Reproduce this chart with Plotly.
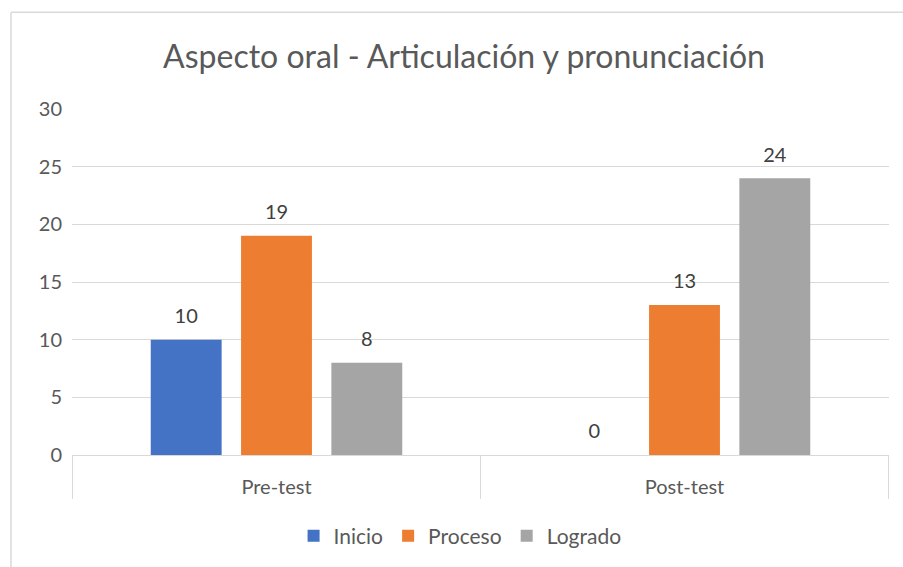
import plotly.graph_objects as go

categories = ["Pre-test", "Post-test"]
series_names = ["Inicio", "Proceso", "Logrado"]
inicio = [10, 0]
proceso = [19, 13]
logrado = [8, 24]
y_ticks = [0, 5, 10, 15, 20, 25, 30]

colors = ["#4472C4", "#ED7D31", "#A5A5A5"]
FONT = "Lato"
TXT = "#595959"

fig = go.Figure()
for name, vals, c in zip(series_names, [inicio, proceso, logrado], colors):
    fig.add_trace(go.Bar(
        name=name, x=categories, y=vals, marker=dict(color=c, line=dict(width=0)),
        offsetgroup=name, hoverinfo="x+y+name",
    ))
for name, vals in zip(series_names, [inicio, proceso, logrado]):
    fig.add_trace(go.Scatter(
        x=categories, y=vals, mode="markers+text", offsetgroup=name,
        marker=dict(size=17, opacity=0), text=[str(v) for v in vals],
        textposition="top center", cliponaxis=False, showlegend=False,
        hoverinfo="skip",
        textfont=dict(family=FONT, size=20, color="#404040"),
    ))

W, H = 903, 567
L, R, T, B = 72, 14, 109, 111
pw, ph = W - L - R, H - T - B

shapes = []
# category dividers
for xb in [-0.5, 0.5, 1.5]:
    shapes.append(dict(type="line", xref="x", yref="paper", x0=xb, x1=xb,
                       y0=0, y1=-44 / ph, line=dict(color="#D9D9D9", width=1)))
# chart border (left and top)
bx = (11 - L) / pw
by = (H - B - 12) / ph
shapes.append(dict(type="line", xref="paper", yref="paper", x0=bx, x1=bx,
                   y0=-2, y1=by, line=dict(color="#D9D9D9", width=1.5)))
shapes.append(dict(type="line", xref="paper", yref="paper", x0=bx, x1=2,
                   y0=by, y1=by, line=dict(color="#D9D9D9", width=1.5)))

fig.update_layout(
    width=W, height=H,
    margin=dict(l=L, r=R, t=T, b=B),
    paper_bgcolor="white", plot_bgcolor="white",
    title=dict(text="Aspecto oral - Articulación y pronunciación",
               x=464 / W, xanchor="center",
               y=1 - 57 / H, yanchor="middle",
               font=dict(family=FONT, size=32, color=TXT)),
    barmode="group", bargap=0.336, bargroupgap=0.215,
    scattermode="group", scattergap=0.336,
    showlegend=True,
    legend=dict(orientation="h", x=0.475, xanchor="center", y=-80 / ph, yanchor="middle",
                font=dict(family=FONT, size=21, color=TXT), traceorder="normal",
                itemwidth=30),
    shapes=shapes,
    xaxis=dict(showline=True, linecolor="#D9D9D9", linewidth=1,
               ticks="outside", ticklen=14, tickcolor="rgba(0,0,0,0)",
               tickfont=dict(family=FONT, size=20, color=TXT), fixedrange=True),
    yaxis=dict(range=[0, 30], tickvals=y_ticks, showgrid=True, gridcolor="#D9D9D9",
               gridwidth=1, zeroline=False, showline=False,
               ticks="outside", ticklen=5, tickcolor="rgba(0,0,0,0)",
               tickfont=dict(family=FONT, size=20, color=TXT), fixedrange=True),
)

fig.write_html("out.html", post_script="document.body.style.margin='0';",
               config={"displayModeBar": False})
